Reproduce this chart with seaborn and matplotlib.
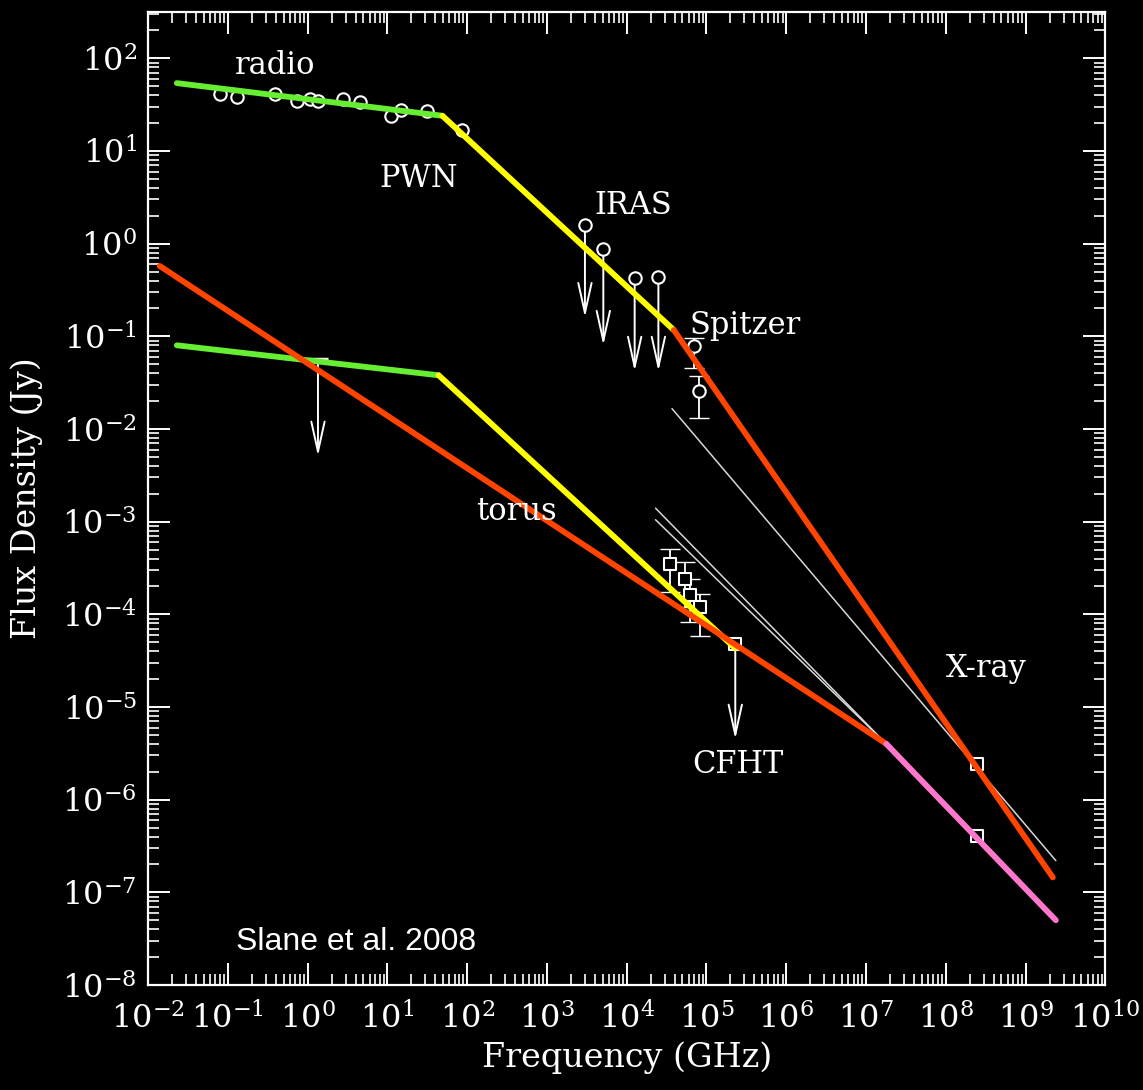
import numpy as np
import matplotlib
matplotlib.use("Agg")
import matplotlib.pyplot as plt
import matplotlib.ticker as mticker
import seaborn as sns

# radio points (GHz, Jy)
radio_nu = [0.079, 0.13, 0.39, 0.74, 1.08, 1.35, 2.8, 4.5, 11, 15, 31, 86]
radio_flux = [41, 38, 41, 35, 36, 35, 36, 34, 24, 28, 27, 17]

# IRAS upper limits
iras_nu = [3.0e3, 5.1e3, 1.26e4, 2.5e4]
iras_flux = [1.58, 0.87, 0.43, 0.44]
iras_tip = [0.16, 0.080, 0.042, 0.042]

# Spitzer points with error bars
spitzer_nu = [6.9e4, 8.1e4]
spitzer_flux = [0.078, 0.026]
spitzer_lo = [0.046, 0.013]
spitzer_hi = [0.095, 0.037]

# torus points
torus_nu = [3.5e4, 5.4e4, 6.3e4, 8.3e4]
torus_flux = [3.5e-4, 2.4e-4, 1.6e-4, 1.2e-4]
torus_lo = [1.74e-4, 1.2e-4, 8.3e-5, 5.9e-5]
torus_hi = [5.1e-4, 3.7e-4, 2.4e-4, 1.66e-4]

# low-frequency torus upper limit
low_nu = [1.35]
low_flux = [0.057]
low_tip = [0.0051]

# CFHT upper limit
cfht_nu = [2.3e5]
cfht_flux = [4.8e-5]
cfht_tip = [4.5e-6]

# X-ray points
xray_nu = [2.45e8, 2.45e8]
xray_flux = [2.4e-6, 4.1e-7]

# model broken power laws (knots)
pwn_green_nu = [0.023, 49]
pwn_green_f = [54, 24]
pwn_yellow_nu = [49, 3.9e4]
pwn_yellow_f = [24, 0.117]
pwn_red_nu = [3.9e4, 2.2e9]
pwn_red_f = [0.117, 1.45e-7]

torus_green_nu = [0.023, 44]
torus_green_f = [0.080, 0.038]
torus_yellow_nu = [44, 2.3e5]
torus_yellow_f = [0.038, 4.3e-5]

long_red_nu = [0.014, 1.8e7]
long_red_f = [0.575, 4.0e-6]
pink_nu = [1.8e7, 2.4e9]
pink_f = [4.0e-6, 5.0e-8]

gray_nu = [[3.7e4, 2.4e9], [2.3e4, 1.8e7], [2.3e4, 1.8e7]]
gray_f = [[0.0166, 2.2e-7], [1.4e-3, 4.0e-6], [1.05e-3, 4.0e-6]]

labels = ["radio", "PWN", "IRAS", "Spitzer", "torus", "X-ray", "CFHT"]
label_nu = [0.39, 24.5, 1.2e4, 3.1e5, 420, 3.2e8, 2.5e5]
label_f = [83, 5.1, 2.6, 0.13, 1.3e-3, 2.6e-5, 2.4e-6]

sns.set_theme(style="ticks", rc={
    "figure.facecolor": "black",
    "axes.facecolor": "black",
    "axes.edgecolor": "white",
    "axes.linewidth": 1.6,
    "xtick.color": "white",
    "ytick.color": "white",
    "text.color": "white",
    "axes.labelcolor": "white",
})
plt.rcParams["font.family"] = ["DejaVu Serif"]
plt.rcParams["mathtext.fontset"] = "dejavuserif"

fig = plt.figure(figsize=(11.43, 10.90), dpi=100)
ax = fig.add_axes([0.1295, 0.0963, 0.8375, 0.8927])
ax.set_xscale("log")
ax.set_yscale("log")

green = "#66ee33"
yellow = "#ffff00"
red = "#ff4400"
pink = "#ff77cc"
lw = 4.2

for gn, gf in zip(gray_nu, gray_f):
    sns.lineplot(x=gn, y=gf, ax=ax, color="#d8d8d8", linewidth=1.1)

segs = [
    (pwn_green_nu, pwn_green_f, green),
    (pwn_yellow_nu, pwn_yellow_f, yellow),
    (pwn_red_nu, pwn_red_f, red),
    (torus_green_nu, torus_green_f, green),
    (torus_yellow_nu, torus_yellow_f, yellow),
    (long_red_nu, long_red_f, red),
    (pink_nu, pink_f, pink),
]

# upper limit arrows
for n, f, t in zip(iras_nu + low_nu + cfht_nu, iras_flux + low_flux + cfht_flux,
                   iras_tip + low_tip + cfht_tip):
    ax.annotate("", xy=(n, t), xytext=(n, f),
                arrowprops=dict(arrowstyle="->,head_length=1.8,head_width=0.4",
                                color="white", lw=1.4, shrinkA=0, shrinkB=0),
                zorder=3)

# data points
pt = dict(color="black", edgecolor="white", linewidth=1.5, zorder=4, legend=False)
sns.scatterplot(x=radio_nu, y=radio_flux, ax=ax, marker="o", s=80, **pt)
sns.scatterplot(x=iras_nu, y=iras_flux, ax=ax, marker="o", s=80, **pt)

sp = np.array(spitzer_flux)
ax.errorbar(spitzer_nu, spitzer_flux,
            yerr=[sp - np.array(spitzer_lo), np.array(spitzer_hi) - sp],
            fmt="none", ecolor="white", elinewidth=1.3, capsize=7, zorder=3)
sns.scatterplot(x=spitzer_nu, y=spitzer_flux, ax=ax, marker="o", s=80, **pt)

tf = np.array(torus_flux)
ax.errorbar(torus_nu, torus_flux,
            yerr=[tf - np.array(torus_lo), np.array(torus_hi) - tf],
            fmt="none", ecolor="white", elinewidth=1.3, capsize=7, zorder=3)
sns.scatterplot(x=torus_nu, y=torus_flux, ax=ax, marker="s", s=70, **pt)
sns.scatterplot(x=xray_nu, y=xray_flux, ax=ax, marker="s", s=70, **pt)
sns.scatterplot(x=cfht_nu, y=cfht_flux, ax=ax, marker="s", s=70, **pt)
sns.scatterplot(x=low_nu, y=low_flux, ax=ax, marker="_", s=200, color="white",
                linewidth=2.5, zorder=4, legend=False)

for n, f, c in segs:
    sns.lineplot(x=n, y=f, ax=ax, color=c, linewidth=lw, zorder=5)

for lab, n, f in zip(labels, label_nu, label_f):
    ax.text(n, f, lab, fontsize=22, ha="center", va="center", color="white", zorder=6)

ax.text(4.0, 2.9e-8, "Slane et al. 2008", fontsize=23, ha="center", va="center",
        color="white", family=["Liberation Sans", "DejaVu Sans"], zorder=6)

ax.set_xlim(1e-2, 1e10)
ax.set_ylim(1e-8, 10 ** 2.5)
ax.xaxis.set_major_locator(mticker.LogLocator(base=10, numticks=30))
ax.yaxis.set_major_locator(mticker.LogLocator(base=10, numticks=30))
ax.xaxis.set_minor_locator(mticker.LogLocator(base=10, subs=np.arange(2, 10), numticks=200))
ax.yaxis.set_minor_locator(mticker.LogLocator(base=10, subs=np.arange(2, 10), numticks=200))
ax.xaxis.set_minor_formatter(mticker.NullFormatter())
ax.yaxis.set_minor_formatter(mticker.NullFormatter())
ax.tick_params(which="both", direction="in", top=True, right=True, colors="white")
ax.tick_params(which="major", length=16, width=1.4, labelsize=23)
ax.tick_params(axis="x", which="major", pad=13)
ax.tick_params(axis="y", which="major", pad=8)
ax.tick_params(which="minor", length=8, width=1.2)
for s in ax.spines.values():
    s.set_color("white")

ax.set_xlabel("Frequency (GHz)", fontsize=24, labelpad=4)
ax.set_ylabel("Flux Density (Jy)", fontsize=24, labelpad=14)

fig.savefig("out.png", dpi=100, facecolor="black")
